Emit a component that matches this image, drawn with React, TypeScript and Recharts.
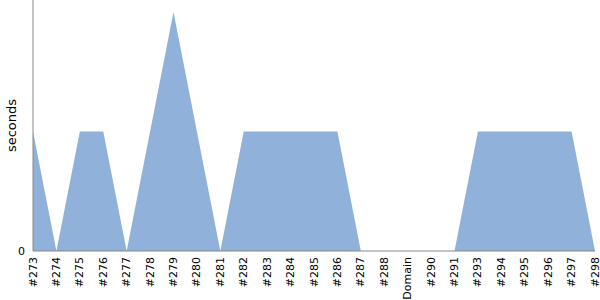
import React from "react";
import { AreaChart, Area, XAxis, YAxis } from "recharts";

const categories = ["#273","#274","#275","#276","#277","#278","#279","#280","#281","#282","#283","#284","#285","#286","#287","#288","Domain","#290","#291","#293","#294","#295","#296","#297","#298"];
const seconds = [1,0,1,1,0,1,2,1,0,1,1,1,1,1,0,0,0,0,0,1,1,1,1,1,0];
const yTicks = [0];

const data = categories.map((c, i) => ({ name: c, value: seconds[i] }));

const XTick = (props: any) => {
  const { x, y, payload } = props;
  return (
    <text
      x={0}
      y={0}
      transform={`translate(${x + 3.5},${y - 2}) rotate(-90)`}
      textAnchor="end"
      fontSize={11}
      fontFamily="DejaVu Sans, sans-serif"
      fill="#000"
    >
      {payload.value}
    </text>
  );
};

export default function App() {
  return (
    <div>
      <style>{`body{margin:0}`}</style>
      <AreaChart width={600} height={300} data={data} margin={{ top: 0, right: 5, left: 0, bottom: 0 }}>
        <XAxis
          dataKey="name"
          interval={0}
          tick={<XTick />}
          tickLine={false}
          height={49}
          stroke="#888"
        />
        <YAxis
          domain={[0, 2.1]}
          ticks={yTicks}
          width={33}
          tickLine={false}
          stroke="#888"
          tick={{ fill: "#000", fontSize: 11, fontFamily: "DejaVu Sans, sans-serif" }}
          label={{ value: "seconds", angle: -90, position: "insideLeft", offset: 11, style: { fill: "#000", fontSize: 13, fontFamily: "DejaVu Sans, sans-serif", textAnchor: "middle" } }}
        />
        <Area
          type="linear"
          dataKey="value"
          stroke="none"
          fill="#8fb1da"
          fillOpacity={1}
          isAnimationActive={false}
        />
      </AreaChart>
    </div>
  );
}
